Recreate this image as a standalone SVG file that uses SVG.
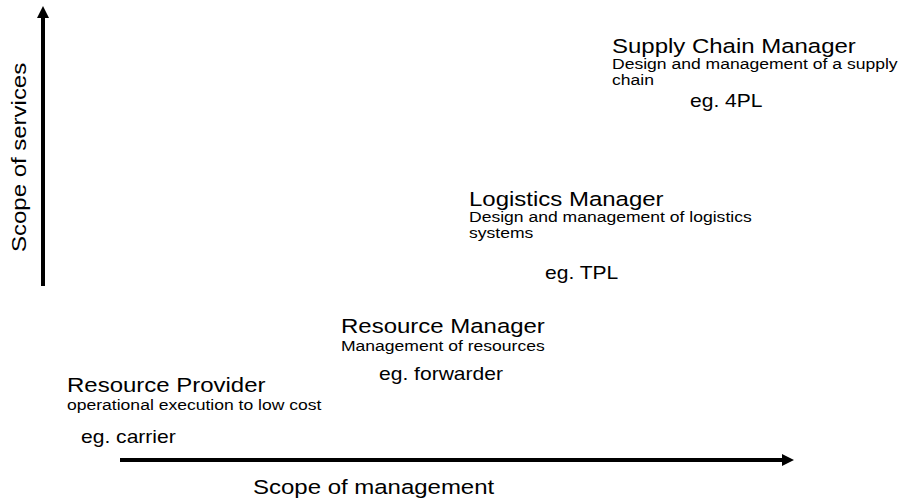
<svg xmlns="http://www.w3.org/2000/svg" width="898" height="503" viewBox="0 0 898 503">
<style>
text{font-family:"Liberation Sans",Arial,sans-serif;fill:#000}
.t{font-size:20.5px}
.s{font-size:15px}
.e{font-size:18px}
.ax{stroke:#000;stroke-width:4;fill:none}
</style>
<defs>
<marker id="ah" viewBox="0 0 10 10" refX="0" refY="5" markerWidth="3" markerHeight="3.2" orient="auto" markerUnits="strokeWidth">
<path d="M0,0 L10,5 L0,10 Z" fill="#000"/>
</marker>
</defs>
<rect width="898" height="503" fill="#fff"/>
<g id="connectors">
<line class="ax" x1="43" y1="286" x2="43" y2="18" marker-end="url(#ah)"/>
<line class="ax" x1="120" y1="460" x2="782" y2="460" marker-end="url(#ah)"/>
</g>
<g id="axis-y"><text class="t" transform="translate(26,252) rotate(-90) scale(1.17,1)">Scope of services</text></g>
<g id="axis-x"><text class="t" transform="translate(253,494) scale(1.17,1)">Scope of management</text></g>
<g id="supply-chain-manager">
<text class="t" transform="translate(612,53) scale(1.17,1)">Supply Chain Manager</text>
<text class="s" transform="translate(612,69) scale(1.17,1)">Design and management of a supply</text>
<text class="s" transform="translate(612,85) scale(1.17,1)">chain</text>
<text class="e" transform="translate(690,107) scale(1.17,1)">eg. 4PL</text>
</g>
<g id="logistics-manager">
<text class="t" transform="translate(469,206) scale(1.17,1)">Logistics Manager</text>
<text class="s" transform="translate(469,222) scale(1.17,1)">Design and management of logistics</text>
<text class="s" transform="translate(469,238) scale(1.17,1)">systems</text>
<text class="e" transform="translate(545,279) scale(1.17,1)">eg. TPL</text>
</g>
<g id="resource-manager">
<text class="t" transform="translate(341,333) scale(1.17,1)">Resource Manager</text>
<text class="s" transform="translate(341,351) scale(1.17,1)">Management of resources</text>
<text class="e" transform="translate(379,380) scale(1.17,1)">eg. forwarder</text>
</g>
<g id="resource-provider">
<text class="t" transform="translate(67,392) scale(1.17,1)">Resource Provider</text>
<text class="s" transform="translate(67,410) scale(1.17,1)">operational execution to low cost</text>
<text class="e" transform="translate(81,443) scale(1.17,1)">eg. carrier</text>
</g>
</svg>
